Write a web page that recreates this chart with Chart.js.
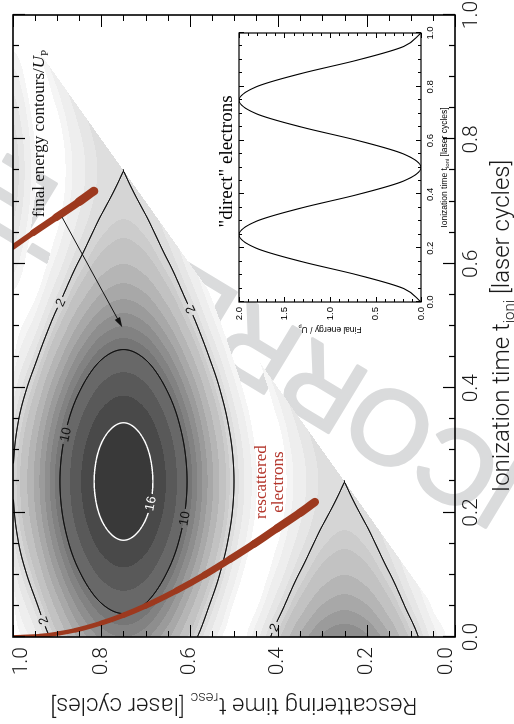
<!DOCTYPE html>
<html>
<head>
<meta charset="utf-8">
<title>Final energy of rescattered and direct electrons</title>
<script src="https://cdn.jsdelivr.net/npm/chart.js@4.4.1/dist/chart.umd.min.js"></script>
<style>
  html, body { margin: 0; padding: 0; background: #fff; overflow: hidden; width: 514px; height: 724px; }
  /* the figure is laid out landscape and turned a quarter turn onto the portrait page */
  #sheet { position: absolute; left: 0; top: 0; width: 724px; height: 514px;
           transform-origin: 0 0; transform: translate(0, 724px) rotate(-90deg); }
  #mainCanvas { position: absolute; left: 0; top: 0; }
  #insetCanvas { position: absolute; left: 380px; top: 205px; }
</style>
</head>
<body>
<div id="sheet">
  <canvas id="mainCanvas" width="724" height="514"></canvas>
  <canvas id="insetCanvas" width="330" height="255"></canvas>
</div>
<script>
// ---------------------------------------------------------------
// Data
// ---------------------------------------------------------------
// sample grid, laser cycles
const ioniGrid = [0.00, 0.05, 0.10, 0.15, 0.20, 0.25, 0.30, 0.35, 0.40, 0.45, 0.50,
                  0.55, 0.60, 0.65, 0.70, 0.75, 0.80, 0.85, 0.90, 0.95, 1.00];
const rescGrid = [0.00, 0.05, 0.10, 0.15, 0.20, 0.25, 0.30, 0.35, 0.40, 0.45, 0.50,
                  0.55, 0.60, 0.65, 0.70, 0.75, 0.80, 0.85, 0.90, 0.95, 1.00];

// final energy / Up of a back-rescattered electron; one row per ionization time,
// one column per rescattering time
const finalEnergy = [
  [0.00, 0.76, 2.77, 5.24, 7.24, 8.00, 7.24, 5.24, 2.77, 0.76, 0.00, 0.76, 2.77, 5.24, 7.24, 8.00, 7.24, 5.24, 2.77, 0.76, 0.00],
  [0.19, 0.19, 1.50, 3.43, 5.08, 5.72, 5.08, 3.43, 1.50, 0.19, 0.19, 1.72, 4.41, 7.43, 9.78, 10.66, 9.78, 7.43, 4.41, 1.72, 0.19],
  [0.69, 0.00, 0.69, 2.12, 3.45, 3.99, 3.45, 2.12, 0.69, 0.00, 0.69, 2.91, 6.22, 9.73, 12.40, 13.40, 12.40, 9.73, 6.22, 2.91, 0.69],
  [1.31, 0.07, 0.27, 1.31, 2.39, 2.84, 2.39, 1.31, 0.27, 0.07, 1.31, 4.07, 7.88, 11.78, 14.70, 15.78, 14.70, 11.78, 7.88, 4.07, 1.31],
  [1.81, 0.22, 0.10, 0.89, 1.81, 2.20, 1.81, 0.89, 0.10, 0.22, 1.81, 4.92, 9.05, 13.20, 16.28, 17.42, 16.28, 13.20, 9.05, 4.92, 1.81],
  [2.00, 0.29, 0.06, 0.76, 1.63, 2.00, 1.63, 0.76, 0.06, 0.29, 2.00, 5.24, 9.47, 13.71, 16.84, 18.00, 16.84, 13.71, 9.47, 5.24, 2.00],
  [1.81, 0.22, 0.10, 0.89, 1.81, 2.20, 1.81, 0.89, 0.10, 0.22, 1.81, 4.92, 9.05, 13.20, 16.28, 17.42, 16.28, 13.20, 9.05, 4.92, 1.81],
  [1.31, 0.07, 0.27, 1.31, 2.39, 2.84, 2.39, 1.31, 0.27, 0.07, 1.31, 4.07, 7.88, 11.78, 14.70, 15.78, 14.70, 11.78, 7.88, 4.07, 1.31],
  [0.69, 0.00, 0.69, 2.12, 3.45, 3.99, 3.45, 2.12, 0.69, 0.00, 0.69, 2.91, 6.22, 9.73, 12.40, 13.40, 12.40, 9.73, 6.22, 2.91, 0.69],
  [0.19, 0.19, 1.50, 3.43, 5.08, 5.72, 5.08, 3.43, 1.50, 0.19, 0.19, 1.72, 4.41, 7.43, 9.78, 10.66, 9.78, 7.43, 4.41, 1.72, 0.19],
  [0.00, 0.76, 2.77, 5.24, 7.24, 8.00, 7.24, 5.24, 2.77, 0.76, 0.00, 0.76, 2.77, 5.24, 7.24, 8.00, 7.24, 5.24, 2.77, 0.76, 0.00],
  [0.19, 1.72, 4.41, 7.43, 9.78, 10.66, 9.78, 7.43, 4.41, 1.72, 0.19, 0.19, 1.50, 3.43, 5.08, 5.72, 5.08, 3.43, 1.50, 0.19, 0.19],
  [0.69, 2.91, 6.22, 9.73, 12.40, 13.40, 12.40, 9.73, 6.22, 2.91, 0.69, 0.00, 0.69, 2.12, 3.45, 3.99, 3.45, 2.12, 0.69, 0.00, 0.69],
  [1.31, 4.07, 7.88, 11.78, 14.70, 15.78, 14.70, 11.78, 7.88, 4.07, 1.31, 0.07, 0.27, 1.31, 2.39, 2.84, 2.39, 1.31, 0.27, 0.07, 1.31],
  [1.81, 4.92, 9.05, 13.20, 16.28, 17.42, 16.28, 13.20, 9.05, 4.92, 1.81, 0.22, 0.10, 0.89, 1.81, 2.20, 1.81, 0.89, 0.10, 0.22, 1.81],
  [2.00, 5.24, 9.47, 13.71, 16.84, 18.00, 16.84, 13.71, 9.47, 5.24, 2.00, 0.29, 0.06, 0.76, 1.63, 2.00, 1.63, 0.76, 0.06, 0.29, 2.00],
  [1.81, 4.92, 9.05, 13.20, 16.28, 17.42, 16.28, 13.20, 9.05, 4.92, 1.81, 0.22, 0.10, 0.89, 1.81, 2.20, 1.81, 0.89, 0.10, 0.22, 1.81],
  [1.31, 4.07, 7.88, 11.78, 14.70, 15.78, 14.70, 11.78, 7.88, 4.07, 1.31, 0.07, 0.27, 1.31, 2.39, 2.84, 2.39, 1.31, 0.27, 0.07, 1.31],
  [0.69, 2.91, 6.22, 9.73, 12.40, 13.40, 12.40, 9.73, 6.22, 2.91, 0.69, 0.00, 0.69, 2.12, 3.45, 3.99, 3.45, 2.12, 0.69, 0.00, 0.69],
  [0.19, 1.72, 4.41, 7.43, 9.78, 10.66, 9.78, 7.43, 4.41, 1.72, 0.19, 0.19, 1.50, 3.43, 5.08, 5.72, 5.08, 3.43, 1.50, 0.19, 0.19],
  [0.00, 0.76, 2.77, 5.24, 7.24, 8.00, 7.24, 5.24, 2.77, 0.76, 0.00, 0.76, 2.77, 5.24, 7.24, 8.00, 7.24, 5.24, 2.77, 0.76, 0.00]
];

// filled energy bands (lower edge of each band) and their grey
const bandLevels = [0.25, 0.5, 1, 1.5, 2, 2.5, 3, 4, 5, 6, 7, 8, 9, 10, 12, 14, 16];
const bandGrays  = [245, 238, 230, 222, 213, 204, 194, 181, 168, 155, 142, 130, 118, 104, 89, 73, 57];

// drawn contour lines
const lineLevels = [2, 10, 16];

// return times of electrons born in the first and the second half cycle
const returnIoniA = [0.000, 0.002, 0.006, 0.011, 0.0225, 0.035, 0.050, 0.075, 0.100, 0.125, 0.150, 0.175, 0.200, 0.217];
const returnRescA = [1.000, 0.939, 0.895, 0.858, 0.800, 0.750, 0.700, 0.629, 0.566, 0.509, 0.454, 0.402, 0.350, 0.317];
const returnIoniB = [0.627, 0.650, 0.675, 0.700, 0.717];
const returnRescB = [1.000, 0.954, 0.902, 0.850, 0.817];

// "direct" electrons: final energy / Up versus ionization time
const directIoni   = [0.00, 0.05, 0.10, 0.15, 0.20, 0.25, 0.30, 0.35, 0.40, 0.45, 0.50,
                      0.55, 0.60, 0.65, 0.70, 0.75, 0.80, 0.85, 0.90, 0.95, 1.00];
const directEnergy = [0.00, 0.19, 0.69, 1.31, 1.81, 2.00, 1.81, 1.31, 0.69, 0.19, 0.00,
                      0.19, 0.69, 1.31, 1.81, 2.00, 1.81, 1.31, 0.69, 0.19, 0.00];

// labelled rescattering-time ticks
const rescTickValues = [0.0, 0.2, 0.4, 0.6, 0.8, 1.0];

// ---------------------------------------------------------------
// Styling and annotation placement (data units)
// ---------------------------------------------------------------
const SANS_LIGHT = "Roboto, Lato, 'DejaVu Sans', sans-serif";
const SANS  = "'Liberation Sans', Arial, Helvetica, sans-serif";
const SERIF = "'Liberation Serif', 'Times New Roman', serif";
const RED_LINE = '#9d391e';
const RED_TEXT = '#b3352b';
const INK = '#1a1a1a';

const contourLabels = [
  { level: 2,  ioni: 0.537, resc: 0.889 },
  { level: 2,  ioni: 0.526, resc: 0.593 },
  { level: 2,  ioni: 0.027, resc: 0.928 },
  { level: 2,  ioni: 0.014, resc: 0.407 },
  { level: 10, ioni: 0.325, resc: 0.882 },
  { level: 10, ioni: 0.191, resc: 0.611 },
  { level: 16, ioni: 0.215, resc: 0.690 }
];
const lineStyle = { 2: { color: '#111', width: 1.0 }, 10: { color: '#111', width: 1.0 }, 16: { color: '#fff', width: 1.4 } };

const notes = {
  contourNote: { ioni: 0.675, resc: 0.930 },
  arrowFrom:   { ioni: 0.675, resc: 0.889 },
  arrowTo:     { ioni: 0.498, resc: 0.753 },
  rescNote:    { ioni: 0.249, resc: 0.428, resc2: 0.389 }
};

// ---------------------------------------------------------------
// Helpers
// ---------------------------------------------------------------
function catmull(p0, p1, p2, p3, t) {
  return p1 + 0.5 * t * (p2 - p0 + t * (2 * p0 - 5 * p1 + 4 * p2 - p3 + t * (3 * (p1 - p2) + p3 - p0)));
}
function gridVal(i, j) {
  const nI = finalEnergy.length, nR = finalEnergy[0].length;
  if (i < 0) return 2 * gridVal(0, j) - gridVal(1, j);
  if (i > nI - 1) return 2 * gridVal(nI - 1, j) - gridVal(nI - 2, j);
  if (j < 0) return 2 * gridVal(i, 0) - gridVal(i, 1);
  if (j > nR - 1) return 2 * gridVal(i, nR - 1) - gridVal(i, nR - 2);
  return finalEnergy[i][j];
}
// smooth (bicubic) reading of the energy table at any (ionization, rescattering) time
function energyAt(ti, tr) {
  const di = ioniGrid[1] - ioniGrid[0], dr = rescGrid[1] - rescGrid[0];
  const fi = (ti - ioniGrid[0]) / di, fj = (tr - rescGrid[0]) / dr;
  let i1 = Math.floor(fi), j1 = Math.floor(fj);
  i1 = Math.max(0, Math.min(ioniGrid.length - 2, i1));
  j1 = Math.max(0, Math.min(rescGrid.length - 2, j1));
  const u = fi - i1, v = fj - j1;
  const c = [];
  for (let m = -1; m <= 2; m++) {
    c.push(catmull(gridVal(i1 + m, j1 - 1), gridVal(i1 + m, j1), gridVal(i1 + m, j1 + 1), gridVal(i1 + m, j1 + 2), v));
  }
  return catmull(c[0], c[1], c[2], c[3], u);
}

function richText(ctx, parts, x, y, align) {
  const widths = [];
  let total = 0;
  for (const p of parts) { ctx.font = p[1]; const w = ctx.measureText(p[0]).width; widths.push(w); total += w; }
  let cx = align === 'center' ? x - total / 2 : (align === 'right' ? x - total : x);
  ctx.textAlign = 'left';
  parts.forEach((p, k) => { ctx.font = p[1]; ctx.fillText(p[0], cx, y + (p[2] || 0)); cx += widths[k]; });
}

function drawTicks(ctx, area, xs, ys, xMajor, xMinor, yMajor, yMinor, lMaj, lMin) {
  ctx.beginPath();
  const near = (v, s) => Math.abs(v / s - Math.round(v / s)) < 1e-6;
  for (let v = xs.min; v <= xs.max + 1e-9; v += xMinor) {
    const len = near(v, xMajor) ? lMaj : lMin;
    const px = Math.round(xs.getPixelForValue(v)) + 0.5;
    ctx.moveTo(px, area.bottom); ctx.lineTo(px, area.bottom - len);
    ctx.moveTo(px, area.top);    ctx.lineTo(px, area.top + len);
  }
  for (let v = ys.min; v <= ys.max + 1e-9; v += yMinor) {
    const len = near(v, yMajor) ? lMaj : lMin;
    const py = Math.round(ys.getPixelForValue(v)) + 0.5;
    ctx.moveTo(area.left, py);  ctx.lineTo(area.left + len, py);
    ctx.moveTo(area.right, py); ctx.lineTo(area.right - len, py);
  }
  ctx.stroke();
}

// ---------------------------------------------------------------
// Energy map: filled bands, contour lines and their labels
// ---------------------------------------------------------------
function buildField(chart) {
  const a = chart.chartArea, xs = chart.scales.x, ys = chart.scales.y;
  const x0 = Math.floor(a.left), y0 = Math.floor(a.top);
  const W = Math.ceil(a.right) - x0, H = Math.ceil(a.bottom) - y0;
  const colIoni = new Float64Array(W), rowResc = new Float64Array(H);
  for (let i = 0; i < W; i++) colIoni[i] = xs.getValueForPixel(x0 + i + 0.5);
  for (let j = 0; j < H; j++) rowResc[j] = ys.getValueForPixel(y0 + j + 0.5);
  const F = new Float32Array(W * H);
  for (let j = 0; j < H; j++) for (let i = 0; i < W; i++) F[j * W + i] = energyAt(colIoni[i], rowResc[j]);
  return { x0, y0, W, H, colIoni, rowResc, F };
}

function contourPath(ctx, fld, L) {
  const { x0, y0, W, H, F, colIoni, rowResc } = fld;
  const P = (i, j) => [x0 + i + 0.5, y0 + j + 0.5];
  ctx.beginPath();
  for (let j = 0; j < H - 1; j++) {
    for (let i = 0; i < W - 1; i++) {
      if ((rowResc[j] + rowResc[j + 1]) / 2 < (colIoni[i] + colIoni[i + 1]) / 2) continue;
      const a = F[j * W + i], b = F[j * W + i + 1], c = F[(j + 1) * W + i + 1], d = F[(j + 1) * W + i];
      const idx = (a >= L ? 8 : 0) | (b >= L ? 4 : 0) | (c >= L ? 2 : 0) | (d >= L ? 1 : 0);
      if (idx === 0 || idx === 15) continue;
      const top = () => P(i + (L - a) / (b - a), j);
      const right = () => P(i + 1, j + (L - b) / (c - b));
      const bottom = () => P(i + (L - d) / (c - d), j + 1);
      const left = () => P(i, j + (L - a) / (d - a));
      const seg = (p, q) => { ctx.moveTo(p[0], p[1]); ctx.lineTo(q[0], q[1]); };
      switch (idx) {
        case 1: case 14: seg(left(), bottom()); break;
        case 2: case 13: seg(bottom(), right()); break;
        case 3: case 12: seg(left(), right()); break;
        case 4: case 11: seg(top(), right()); break;
        case 6: case 9:  seg(top(), bottom()); break;
        case 7: case 8:  seg(left(), top()); break;
        case 5:  seg(left(), top()); seg(bottom(), right()); break;
        case 10: seg(top(), right()); seg(left(), bottom()); break;
      }
    }
  }
}

function placeLabel(fld, lab, xs, ys) {
  const { x0, y0, W, H, F, colIoni, rowResc } = fld;
  const ci = Math.round(xs.getPixelForValue(lab.ioni) - x0 - 0.5);
  const cj = Math.round(ys.getPixelForValue(lab.resc) - y0 - 0.5);
  let best = null, bestD = 1e9;
  for (let j = cj - 16; j <= cj + 16; j++) {
    for (let i = ci - 16; i <= ci + 16; i++) {
      if (i < 1 || j < 1 || i >= W - 1 || j >= H - 1) continue;
      if (rowResc[j] < colIoni[i]) continue;
      const gx = (F[j * W + i + 1] - F[j * W + i - 1]) / 2;
      const gy = (F[(j + 1) * W + i] - F[(j - 1) * W + i]) / 2;
      const g = Math.hypot(gx, gy) + 1e-9;
      if (Math.abs(F[j * W + i] - lab.level) / g > 0.6) continue;
      const d = (i - ci) * (i - ci) + (j - cj) * (j - cj);
      if (d < bestD) { bestD = d; best = { i, j, gx, gy }; }
    }
  }
  if (!best) best = { i: ci, j: cj, gx: 1, gy: 0 };
  let ang = Math.atan2(best.gx, -best.gy);
  if (ang > Math.PI / 2) ang -= Math.PI;
  if (ang < -Math.PI / 2) ang += Math.PI;
  return { x: x0 + best.i + 0.5, y: y0 + best.j + 0.5, ang };
}

const energyMap = {
  id: 'energyMap',
  beforeDatasetsDraw(chart) {
    const { ctx, chartArea: area, scales: { x: xs, y: ys } } = chart;
    if (!chart.$field) chart.$field = buildField(chart);
    const fld = chart.$field;
    const { x0, y0, W, H, F, colIoni, rowResc } = fld;

    // filled bands (only where rescattering follows ionization)
    const off = document.createElement('canvas');
    off.width = W; off.height = H;
    const octx = off.getContext('2d');
    const img = octx.createImageData(W, H);
    for (let j = 0; j < H; j++) {
      for (let i = 0; i < W; i++) {
        if (rowResc[j] < colIoni[i]) continue;
        const e = F[j * W + i];
        let b = -1;
        for (let m = bandLevels.length - 1; m >= 0; m--) { if (e >= bandLevels[m]) { b = m; break; } }
        if (b < 0) continue;
        const k = (j * W + i) * 4, g = bandGrays[b];
        img.data[k] = g; img.data[k + 1] = g; img.data[k + 2] = g; img.data[k + 3] = 255;
      }
    }
    octx.putImageData(img, 0, 0);
    ctx.drawImage(off, x0, y0);

    // labels and the gaps they cut into the lines
    ctx.font = `13px ${SANS}`;
    const placed = contourLabels.map(l => {
      const p = placeLabel(fld, l, xs, ys);
      const text = String(l.level);
      return { ...p, text, level: l.level, w: ctx.measureText(text).width + 5, h: 12 };
    });

    ctx.save();
    ctx.beginPath();
    ctx.rect(area.left, area.top, area.right - area.left, area.bottom - area.top);
    for (const p of placed) {
      const c = Math.cos(p.ang), s = Math.sin(p.ang);
      const pts = [[-p.w / 2, -p.h / 2], [p.w / 2, -p.h / 2], [p.w / 2, p.h / 2], [-p.w / 2, p.h / 2]]
        .map(([u, v]) => [p.x + u * c - v * s, p.y + u * s + v * c]);
      ctx.moveTo(pts[0][0], pts[0][1]);
      for (let k = 1; k < 4; k++) ctx.lineTo(pts[k][0], pts[k][1]);
      ctx.closePath();
    }
    ctx.clip('evenodd');
    ctx.lineCap = 'round';
    ctx.lineJoin = 'round';
    for (const L of lineLevels) {
      contourPath(ctx, fld, L);
      ctx.strokeStyle = lineStyle[L].color;
      ctx.lineWidth = lineStyle[L].width;
      ctx.stroke();
    }
    ctx.restore();

    ctx.save();
    ctx.textAlign = 'center';
    ctx.textBaseline = 'middle';
    ctx.font = `13px ${SANS}`;
    for (const p of placed) {
      ctx.save();
      ctx.translate(p.x, p.y);
      ctx.rotate(p.ang);
      ctx.fillStyle = lineStyle[p.level].color;
      ctx.fillText(p.text, 0, 0.5);
      ctx.restore();
    }
    ctx.restore();
  }
};

// page background and the diagonal proof watermark underneath everything
const pageBackdrop = {
  id: 'pageBackdrop',
  beforeDraw(chart) {
    const ctx = chart.ctx;
    ctx.save();
    ctx.fillStyle = '#fff';
    ctx.fillRect(0, 0, chart.width, chart.height);
    ctx.translate(189, 638);
    ctx.rotate(Math.atan2(-0.856, 0.517));
    ctx.font = `105px ${SANS}`;
    ctx.fillStyle = '#dadbdc';
    ctx.strokeStyle = '#dadbdc';
    ctx.lineWidth = 3;
    ctx.lineJoin = 'round';
    ctx.textBaseline = 'alphabetic';
    ctx.fillText('UNCORRECTED PROOF', 0, 0);
    ctx.strokeText('UNCORRECTED PROOF', 0, 0);
    ctx.restore();
  }
};

// frame, inward ticks, axis titles and annotations
const mainDecor = {
  id: 'mainDecor',
  afterDraw(chart) {
    const { ctx, chartArea: a, scales: { x: xs, y: ys } } = chart;
    ctx.save();
    ctx.strokeStyle = '#000';
    ctx.lineWidth = 1.2;
    drawTicks(ctx, a, xs, ys, 0.2, 0.05, 0.2, 0.05, 12, 6);
    ctx.lineWidth = 1.6;
    ctx.strokeRect(a.left, a.top, a.right - a.left, a.bottom - a.top);

    // rescattering-time labels, end labels kept inside the axis span
    ctx.fillStyle = INK;
    ctx.font = `300 21px ${SANS_LIGHT}`;
    ctx.textAlign = 'right';
    ctx.textBaseline = 'middle';
    for (const v of rescTickValues) {
      const py = Math.max(a.top + 9, Math.min(a.bottom - 8, ys.getPixelForValue(v)));
      ctx.fillText(v.toFixed(1), a.left - 10, py);
    }

    ctx.textBaseline = 'alphabetic';
    const big = `300 24px ${SANS_LIGHT}`, sub = `300 15px ${SANS_LIGHT}`;
    richText(ctx, [['Ionization time t', big], ['ioni', sub, 5], [' [laser cycles]', big]], (a.left + a.right) / 2, 509, 'center');
    ctx.save();
    ctx.translate(26, (a.top + a.bottom) / 2);
    ctx.rotate(-Math.PI / 2);
    richText(ctx, [['Rescattering time t', big], ['resc', sub, 5], [' [laser cycles]', big]], 0, 0, 'center');
    ctx.restore();

    // "final energy contours/Up" with its arrow
    const serif = `17px ${SERIF}`;
    ctx.fillStyle = '#111';
    richText(ctx, [['final energy contours/', serif], ['U', `italic 17px ${SERIF}`], ['P', `11px ${SERIF}`, 4]],
      xs.getPixelForValue(notes.contourNote.ioni), ys.getPixelForValue(notes.contourNote.resc), 'left');
    const ax = xs.getPixelForValue(notes.arrowFrom.ioni), ay = ys.getPixelForValue(notes.arrowFrom.resc);
    const bx = xs.getPixelForValue(notes.arrowTo.ioni),   by = ys.getPixelForValue(notes.arrowTo.resc);
    const ang = Math.atan2(by - ay, bx - ax);
    ctx.strokeStyle = '#111';
    ctx.lineWidth = 1;
    ctx.beginPath();
    ctx.moveTo(ax, ay);
    ctx.lineTo(bx - 6 * Math.cos(ang), by - 6 * Math.sin(ang));
    ctx.stroke();
    ctx.beginPath();
    ctx.moveTo(bx, by);
    ctx.lineTo(bx - 10 * Math.cos(ang) + 3 * Math.sin(ang), by - 10 * Math.sin(ang) - 3 * Math.cos(ang));
    ctx.lineTo(bx - 10 * Math.cos(ang) - 3 * Math.sin(ang), by - 10 * Math.sin(ang) + 3 * Math.cos(ang));
    ctx.closePath();
    ctx.fillStyle = '#111';
    ctx.fill();

    // rescattered electrons note
    ctx.fillStyle = RED_TEXT;
    ctx.font = serif;
    ctx.textAlign = 'center';
    const rx = xs.getPixelForValue(notes.rescNote.ioni);
    ctx.fillText('rescattered', rx, ys.getPixelForValue(notes.rescNote.resc));
    ctx.fillText('electrons', rx, ys.getPixelForValue(notes.rescNote.resc2));
    ctx.restore();
  }
};

// stroke width grows along each return-time curve
function taper(w0, w1) {
  return (c) => {
    const pts = c.chart.getDatasetMeta(c.datasetIndex).data;
    let total = 0, upto = 0;
    for (let k = 1; k < pts.length; k++) {
      const d = Math.hypot(pts[k].x - pts[k - 1].x, pts[k].y - pts[k - 1].y);
      total += d;
      if (k < c.p1DataIndex) upto += d;
      else if (k === c.p1DataIndex) upto += d / 2;
    }
    return w0 + (w1 - w0) * (total ? upto / total : 0);
  };
}

const returnA = returnIoniA.map((t, k) => ({ x: t, y: returnRescA[k] }));
const returnB = returnIoniB.map((t, k) => ({ x: t, y: returnRescB[k] }));

const axisTickFont = { family: SANS_LIGHT, size: 21, weight: 300 };

new Chart(document.getElementById('mainCanvas'), {
  type: 'line',
  data: {
    datasets: [
      { data: returnA, borderColor: RED_LINE, borderWidth: 4, pointRadius: 0, fill: false,
        cubicInterpolationMode: 'monotone', borderCapStyle: 'round',
        segment: { borderWidth: taper(3.5, 8.5) } },
      { data: returnB, borderColor: RED_LINE, borderWidth: 5, pointRadius: 0, fill: false,
        cubicInterpolationMode: 'monotone', borderCapStyle: 'round',
        segment: { borderWidth: taper(5, 9) } }
    ]
  },
  options: {
    responsive: false,
    animation: false,
    devicePixelRatio: 1,
    events: [],
    layout: { padding: { left: 0, top: 13, right: 15, bottom: 0 } },
    plugins: { legend: { display: false }, tooltip: { enabled: false } },
    scales: {
      x: {
        type: 'linear', min: 0, max: 1, position: 'bottom',
        grid: { display: false, drawTicks: false }, border: { display: false },
        ticks: { stepSize: 0.2, padding: 4, maxRotation: 0, color: INK, font: axisTickFont,
                 callback: v => v.toFixed(1) },
        afterFit(s) { s.height = 59; s.paddingLeft = 0; s.paddingRight = 0; }
      },
      y: {
        type: 'linear', min: 0, max: 1, position: 'left',
        grid: { display: false, drawTicks: false }, border: { display: false },
        ticks: { display: false, stepSize: 0.2 },
        afterFit(s) { s.width = 87; s.paddingTop = 0; s.paddingBottom = 0; }
      }
    }
  },
  plugins: [pageBackdrop, energyMap, mainDecor]
});

// ---------------------------------------------------------------
// Inset: "direct" electrons
// ---------------------------------------------------------------
const insetDecor = {
  id: 'insetDecor',
  beforeDraw(chart) {
    const { ctx, chartArea: a } = chart;
    ctx.save();
    ctx.fillStyle = '#fff';
    ctx.fillRect(a.left, a.top, a.right - a.left, a.bottom - a.top);
    ctx.restore();
  },
  afterDraw(chart) {
    const { ctx, chartArea: a, scales: { x: xs, y: ys } } = chart;
    ctx.save();
    ctx.strokeStyle = '#000';
    ctx.lineWidth = 1;
    drawTicks(ctx, a, xs, ys, 0.2, 0.05, 0.5, 0.1, 5, 3);
    ctx.lineWidth = 1.2;
    ctx.strokeRect(a.left, a.top, a.right - a.left, a.bottom - a.top);

    ctx.fillStyle = '#000';
    ctx.textBaseline = 'alphabetic';
    ctx.font = `19px ${SERIF}`;
    ctx.textAlign = 'center';
    ctx.fillText('"direct" electrons', (a.left + a.right) / 2 + 6, a.top - 7);

    const f = `8.5px ${SANS}`, fs = `6px ${SANS}`;
    richText(ctx, [['Ionization time t', f], ['ioni', fs, 2], [' [laser cycles]', f]], (a.left + a.right) / 2, a.bottom + 26, 'center');
    ctx.save();
    ctx.translate(17, (a.top + a.bottom) / 2);
    ctx.rotate(-Math.PI / 2);
    richText(ctx, [['Final energy / U', f], ['p', fs, 2]], 0, 0, 'center');
    ctx.restore();
    ctx.restore();
  }
};

const insetTickFont = { family: SANS, size: 9.5 };

new Chart(document.getElementById('insetCanvas'), {
  type: 'line',
  data: {
    datasets: [{
      data: directIoni.map((t, k) => ({ x: t, y: directEnergy[k] })),
      borderColor: '#000', borderWidth: 1.1, pointRadius: 0, fill: false,
      cubicInterpolationMode: 'monotone'
    }]
  },
  options: {
    responsive: false,
    animation: false,
    devicePixelRatio: 1,
    events: [],
    layout: { padding: { left: 0, top: 34, right: 19, bottom: 0 } },
    plugins: { legend: { display: false }, tooltip: { enabled: false } },
    scales: {
      x: {
        type: 'linear', min: 0, max: 1,
        grid: { display: false, drawTicks: false }, border: { display: false },
        ticks: { stepSize: 0.2, padding: 4, maxRotation: 0, color: '#000', font: insetTickFont,
                 callback: v => v.toFixed(1) },
        afterFit(s) { s.height = 39; s.paddingLeft = 0; s.paddingRight = 0; }
      },
      y: {
        type: 'linear', min: 0, max: 2,
        grid: { display: false, drawTicks: false }, border: { display: false },
        ticks: { stepSize: 0.5, padding: 5, color: '#000', font: insetTickFont,
                 callback: v => v.toFixed(1) },
        afterFit(s) { s.width = 42; s.paddingTop = 0; s.paddingBottom = 0; }
      }
    }
  },
  plugins: [insetDecor]
});
</script>
</body>
</html>
